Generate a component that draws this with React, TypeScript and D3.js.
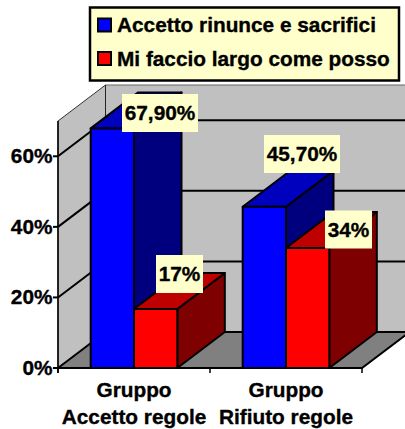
import React from "react";
import * as d3 from "d3";

const categories = ["Gruppo|Accetto regole", "Gruppo|Rifiuto regole"];
const seriesNames = ["Accetto rinunce e sacrifici", "Mi faccio largo come posso"];
const acceptValues = [67.9, 45.7];
const wideValues = [16.7, 34];
const acceptLabels = ["67,90%", "45,70%"];
const wideLabels = ["17%", "34%"];
const yTicks = [0, 20, 40, 60];

const font = "'Liberation Sans', Arial, sans-serif";
const FS = 20.8;
const heavy = { stroke: "#000", strokeWidth: 0.35 };
const DX = 47.5;
const DY = -36;
const y = d3.scaleLinear().domain([0, 70]).range([368, 121]);
const x0 = d3.scaleBand<string>().domain(categories).range([58, 362]);
const palette = [
  { front: "#0000FF", top: "#0000BF", side: "#00007F" },
  { front: "#FF0000", top: "#BF0000", side: "#7F0000" },
];
const poly = d3.line<[number, number]>();

function Bar({ cat, s, v }: { cat: string; s: number; v: number }) {
  const band = x0.bandwidth();
  const bw = band * 0.285;
  const l = (x0(cat) as number) + band * 0.215 + s * bw;
  const r = l + bw;
  const t = y(v);
  const b = y(0);
  const c = palette[s];
  const common = { stroke: "#000", strokeWidth: 2, strokeLinejoin: "round" as const };
  return (
    <g>
      <path d={poly([[r, b], [r + DX, b + DY], [r + DX, t + DY], [r, t]]) + "Z"} fill={c.side} {...common} />
      <path d={poly([[l, t], [l + DX, t + DY], [r + DX, t + DY], [r, t]]) + "Z"} fill={c.top} {...common} />
      <rect x={l} y={t} width={bw} height={b - t} fill={c.front} {...common} />
    </g>
  );
}

function DataLabel({ cx, cy, w, text }: { cx: number; cy: number; w: number; text: string }) {
  return (
    <g>
      <rect x={cx - w / 2} y={cy - 19} width={w} height={38} fill="#FFFFCC" />
      <text x={cx} y={cy + 7} textAnchor="middle" fontSize={FS} fontWeight="bold" fontFamily={font} fill="#000" {...heavy}>
        {text}
      </text>
    </g>
  );
}

export default function App() {
  const L = 58;
  const R = 362;
  const y0 = y(0);
  const yTop = y(70);
  const labelPos = [
    [{ cx: 160, cy: 113, w: 76, t: acceptLabels[0] }, { cx: 179.5, cy: 274, w: 47, t: wideLabels[0] }],
    [{ cx: 302, cy: 154, w: 76, t: acceptLabels[1] }, { cx: 348.5, cy: 229.5, w: 47, t: wideLabels[1] }],
  ];
  return (
    <svg width={405} height={429} style={{ position: "absolute", left: 0, top: 0 }}>
      <rect width={405} height={429} fill="#fff" />
      {/* walls */}
      <path d={poly([[L, y0], [L + DX, y0 + DY], [L + DX, yTop + DY], [L, yTop]]) + "Z"} fill="#C0C0C0" stroke="#333" strokeWidth={1} />
      <rect x={L + DX} y={yTop + DY} width={R + DX - L - DX + 4} height={y0 - yTop} fill="#C0C0C0" />
      <line x1={L + DX} x2={405} y1={yTop + DY} y2={yTop + DY} stroke="#666" strokeWidth={1} />
      <line x1={L + DX} x2={L + DX} y1={yTop + DY} y2={y0 + DY} stroke="#222" strokeWidth={1} />
      {/* floor */}
      <path d={poly([[L, y0], [L + DX, y0 + DY], [R + DX, y0 + DY], [R, y0]]) + "Z"} fill="#808080" stroke="#000" strokeWidth={2} />
      {/* grid */}
      {yTicks.filter((t) => t > 0).map((t) => (
        <path key={t} d={poly([[L, y(t)], [L + DX, y(t) + DY], [405, y(t) + DY]]) as string} fill="none" stroke="#000" strokeWidth={2} />
      ))}
      {/* axes */}
      <line x1={L} x2={L} y1={yTop} y2={y0 + 5} stroke="#000" strokeWidth={1.5} />
      <line x1={L} x2={R} y1={y0} y2={y0} stroke="#000" strokeWidth={2} />
      {yTicks.map((t) => (
        <g key={t}>
          <line x1={L - 5} x2={L} y1={y(t)} y2={y(t)} stroke="#000" strokeWidth={2} />
          <text x={L - 5.5} y={y(t) + 7} textAnchor="end" fontSize={FS} fontWeight="bold" fontFamily={font} {...heavy}>
            {t}%
          </text>
        </g>
      ))}
      {[L, L + (R - L) / 2, R].map((tx) => (
        <line key={tx} x1={tx} x2={tx} y1={y0} y2={y0 + 5} stroke="#000" strokeWidth={1.5} />
      ))}
      {/* bars */}
      {categories.map((c, i) => (
        <g key={c}>
          <Bar cat={c} s={0} v={acceptValues[i]} />
          <Bar cat={c} s={1} v={wideValues[i]} />
        </g>
      ))}
      {/* labels */}
      {labelPos.flat().map((p) => (
        <DataLabel key={p.t} cx={p.cx} cy={p.cy} w={p.w} text={p.t} />
      ))}
      {/* category labels */}
      {categories.map((c, i) => {
        const cx = i === 0 ? 134 : 286;
        const [a, b] = c.split("|");
        return (
          <text key={c} textAnchor="middle" fontSize={FS} fontWeight="bold" fontFamily={font} {...heavy}>
            <tspan x={cx} y={397}>{a}</tspan>
            <tspan x={cx} y={424}>{b}</tspan>
          </text>
        );
      })}
      {/* legend */}
      <rect x={90} y={7.5} width={309} height={73} fill="#FFFFCC" stroke="#000" strokeWidth={2.5} />
      {seriesNames.map((n, i) => (
        <g key={n}>
          <rect x={98} y={18.5 + i * 33.5} width={13} height={13} fill={palette[i].front} stroke="#000" strokeWidth={2} />
          <text x={117} y={32 + i * 34} fontSize={FS} fontWeight="bold" fontFamily={font} {...heavy}>
            {n}
          </text>
        </g>
      ))}
    </svg>
  );
}
